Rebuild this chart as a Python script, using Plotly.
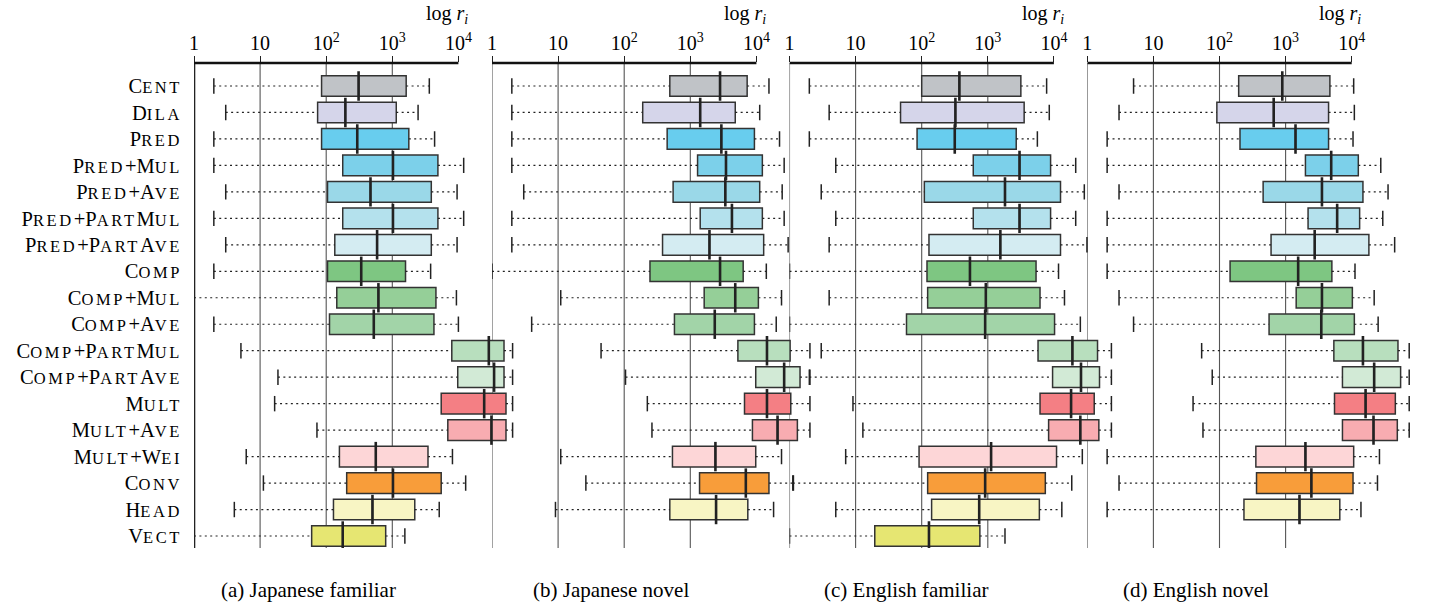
import re
import plotly.graph_objects as go

FONT = "Liberation Serif"
W, H = 1432, 610

methods = ["Cent", "Dila", "Pred", "Pred+Mul", "Pred+Ave", "Pred+PartMul",
           "Pred+PartAve", "Comp", "Comp+Mul", "Comp+Ave", "Comp+PartMul",
           "Comp+PartAve", "Mult", "Mult+Ave", "Mult+Wei", "Conv", "Head", "Vect"]

colors = ["#c0c3c7", "#d5d5ea", "#68cdee", "#7cd0ea", "#9ad8e8", "#b4e1ed",
          "#d4ecf2", "#7ec682", "#95cf98", "#a2d4a8", "#b8dfbe", "#d2ead6",
          "#f47f84", "#f8acb1", "#fdd6d7", "#f89d3a", "#f8f5c4", "#e6e672"]

# log10 of the rank r_i (whisker low, q1, median, q3, whisker high)
ja_fam_low  = [0.30, 0.48, 0.30, 0.30, 0.48, 0.30, 0.48, 0.30, 0.00, 0.30, 0.71, 1.27, 1.22, 1.86, 0.79, 1.05, 0.61, 0.00]
ja_fam_q1   = [1.93, 1.87, 1.93, 2.25, 2.02, 2.25, 2.13, 2.02, 2.16, 2.05, 3.90, 3.99, 3.74, 3.84, 2.20, 2.31, 2.11, 1.78]
ja_fam_med  = [2.49, 2.29, 2.47, 3.01, 2.67, 3.01, 2.77, 2.53, 2.79, 2.72, 4.46, 4.54, 4.39, 4.50, 2.75, 3.01, 2.70, 2.25]
ja_fam_q3   = [3.21, 3.06, 3.25, 3.69, 3.59, 3.69, 3.59, 3.20, 3.66, 3.63, 4.69, 4.69, 4.72, 4.72, 3.54, 3.74, 3.34, 2.90]
ja_fam_high = [3.56, 3.39, 3.64, 4.08, 3.98, 4.08, 3.98, 3.58, 3.97, 4.00, 4.82, 4.82, 4.82, 4.82, 3.91, 4.11, 3.71, 3.19]

ja_nov_low  = [0.30, 0.30, 0.30, 0.30, 0.48, 0.30, 0.30, 0.00, 1.04, 0.60, 1.65, 2.02, 2.35, 2.42, 1.04, 1.42, 0.96, None]
ja_nov_q1   = [2.69, 2.28, 2.65, 3.11, 2.74, 3.15, 2.58, 2.39, 3.21, 2.76, 3.72, 3.99, 3.82, 3.94, 2.73, 3.14, 2.69, None]
ja_nov_med  = [3.45, 3.15, 3.47, 3.54, 3.53, 3.63, 3.29, 3.45, 3.68, 3.37, 4.16, 4.42, 4.16, 4.32, 3.38, 3.84, 3.39, None]
ja_nov_q3   = [3.86, 3.68, 3.97, 4.09, 4.05, 4.09, 4.11, 3.80, 4.03, 3.97, 4.51, 4.66, 4.52, 4.62, 3.99, 4.19, 3.87, None]
ja_nov_high = [4.19, 4.05, 4.35, 4.42, 4.39, 4.42, 4.48, 4.15, 4.38, 4.30, 4.81, 4.81, 4.81, 4.81, 4.38, 4.56, 4.26, None]

en_fam_low  = [0.30, 0.60, 0.30, 0.70, 0.48, 0.70, 0.60, 0.00, 0.60, 0.00, 0.48, 0.30, 0.96, 1.11, 0.85, 0.05, 0.70, 0.00]
en_fam_q1   = [2.00, 1.68, 1.93, 2.78, 2.04, 2.78, 2.11, 2.08, 2.09, 1.77, 3.76, 3.98, 3.79, 3.92, 1.96, 2.09, 2.15, 1.29]
en_fam_med  = [2.57, 2.51, 2.50, 3.48, 3.26, 3.48, 3.19, 2.73, 2.97, 2.96, 4.28, 4.41, 4.26, 4.40, 3.05, 2.96, 2.87, 2.11]
en_fam_q3   = [3.50, 3.55, 3.43, 3.95, 4.10, 3.95, 4.10, 3.73, 3.79, 4.01, 4.66, 4.69, 4.61, 4.68, 4.04, 3.87, 3.78, 2.88]
en_fam_high = [3.89, 3.93, 3.75, 4.33, 4.46, 4.33, 4.50, 4.07, 4.16, 4.40, 4.87, 4.87, 4.87, 4.87, 4.43, 4.27, 4.12, 3.26]

en_nov_low  = [0.70, 0.48, 0.30, 0.30, 0.48, 0.30, 0.30, 0.30, 0.48, 0.70, 1.73, 1.89, 1.60, 1.75, 0.30, 0.48, 0.30, None]
en_nov_q1   = [2.29, 1.96, 2.31, 3.30, 2.66, 3.34, 2.78, 2.16, 3.16, 2.75, 3.73, 3.86, 3.74, 3.86, 2.55, 2.56, 2.37, None]
en_nov_med  = [2.95, 2.82, 3.15, 3.69, 3.55, 3.78, 3.44, 3.19, 3.55, 3.54, 4.17, 4.34, 4.21, 4.33, 3.30, 3.39, 3.21, None]
en_nov_q3   = [3.67, 3.65, 3.65, 4.10, 4.17, 4.12, 4.26, 3.70, 4.01, 4.04, 4.70, 4.74, 4.66, 4.69, 4.03, 4.02, 3.82, None]
en_nov_high = [4.03, 4.04, 4.02, 4.44, 4.55, 4.47, 4.65, 4.05, 4.34, 4.40, 4.87, 4.87, 4.87, 4.87, 4.42, 4.39, 4.14, None]

panels = [
    ("(a) Japanese familiar", ja_fam_low, ja_fam_q1, ja_fam_med, ja_fam_q3, ja_fam_high),
    ("(b) Japanese novel",    ja_nov_low, ja_nov_q1, ja_nov_med, ja_nov_q3, ja_nov_high),
    ("(c) English familiar",  en_fam_low, en_fam_q1, en_fam_med, en_fam_q3, en_fam_high),
    ("(d) English novel",     en_nov_low, en_nov_q1, en_nov_med, en_nov_q3, en_nov_high),
]

tick_vals = [1, 10, 100, 1000, 10000]
tick_text = ["1", "10", "10<sup>2</sup>", "10<sup>3</sup>", "10<sup>4</sup>"]

# geometry (pixels)
TOP, BOTTOM = 63, 548
ORIGINS = [194, 492, 789.5, 1087.3]
DECADE = 66.1
SPAN = 4.95
CAPTION_X = [308, 611, 906, 1196]


def small_caps(name):
    return re.sub(r"[a-z]+",
                  lambda m: '<span style="font-size:16.5px;letter-spacing:2.6px">%s</span>' % m.group().upper(),
                  name)


def r(v):
    return None if v is None else 10 ** v


fig = go.Figure()
shapes, annotations = [], []
layout = {}

for k, (caption, low, q1, med, q3, high) in enumerate(panels):
    xa = "x" if k == 0 else f"x{k + 1}"
    rows = [i for i in range(len(methods)) if med[i] is not None]

    wx, wy = [], []
    for i in rows:
        wx += [r(low[i]), r(q1[i]), None, r(q3[i]), r(high[i]), None]
        wy += [i, i, None, i, i, None]
    fig.add_trace(go.Scatter(x=wx, y=wy, mode="lines", xaxis=xa, yaxis="y",
                             line=dict(color="#222", width=1.2, dash="2px,3.4px"),
                             hoverinfo="skip", showlegend=False))

    for i in rows:
        fig.add_trace(go.Box(
            y=[i], q1=[r(q1[i])], median=[r(med[i])], q3=[r(q3[i])],
            lowerfence=[r(q1[i])], upperfence=[r(q3[i])],
            orientation="h", width=0.78, whiskerwidth=0,
            fillcolor=colors[i], line=dict(color="#333", width=1.5),
            xaxis=xa, yaxis="y", hoverinfo="skip", showlegend=False,
        ))

    fig.add_trace(go.Scatter(
        x=[r(med[i]) for i in rows], y=rows, mode="markers", xaxis=xa, yaxis="y",
        marker=dict(symbol="line-ns", size=21, line=dict(color="#222", width=2.6)),
        hoverinfo="skip", showlegend=False))
    fig.add_trace(go.Scatter(
        x=[r(low[i]) for i in rows] + [r(high[i]) for i in rows], y=rows + rows,
        mode="markers", xaxis=xa, yaxis="y",
        marker=dict(symbol="line-ns", size=11, line=dict(color="#222", width=1.5)),
        hoverinfo="skip", showlegend=False))

    o = ORIGINS[k]
    layout["xaxis" if k == 0 else f"xaxis{k + 1}"] = dict(
        type="log", range=[0, SPAN], domain=[o / W, (o + SPAN * DECADE) / W],
        anchor="y", side="top", tickvals=tick_vals, ticktext=tick_text,
        ticks="outside", ticklen=6, tickwidth=1.2, tickcolor="#222",
        ticklabelstandoff=-2, automargin=False,
        showgrid=False, zeroline=False, showline=False,
        tickfont=dict(family=FONT, size=20, color="black"),
    )

    # vertical grid lines at 1 .. 10^3, the thick top axis line from 1 to 10^4
    for t in tick_vals[:-1]:
        first = (k == 0 and t == 1)
        shapes.append(dict(type="line", xref=xa, yref="paper", x0=t, x1=t,
                           y0=0, y1=1, layer="below",
                           line=dict(color="#222" if first else "#555", width=2.6 if first else 1.1)))
    shapes.append(dict(type="line", xref=xa, yref="paper", x0=tick_vals[0], x1=tick_vals[-1],
                       y0=1, y1=1, line=dict(color="#111", width=2.6)))

    annotations.append(dict(text="log <i>r</i><sub><i>i</i></sub>", xref="paper", yref="paper",
                            x=(o + 276) / W, y=(BOTTOM - 15) / (BOTTOM - TOP),
                            xanchor="right", yanchor="middle", showarrow=False,
                            font=dict(family=FONT, size=20, color="black")))
    annotations.append(dict(text=caption, xref="paper", yref="paper",
                            x=CAPTION_X[k] / W, y=(BOTTOM - 590) / (BOTTOM - TOP),
                            xanchor="center", yanchor="middle", showarrow=False,
                            font=dict(family=FONT, size=21, color="black")))

row_px = 26.47
layout["yaxis"] = dict(
    domain=[0, 1], range=[17 + (BOTTOM - 536) / row_px, -(86 - TOP) / row_px],
    tickvals=list(range(len(methods))), ticktext=[small_caps(m) for m in methods],
    ticks="", ticklabelstandoff=11, automargin=False,
    showgrid=False, zeroline=False, showline=False,
    tickfont=dict(family=FONT, size=20.5, color="black"), anchor="x",
)

fig.update_layout(
    width=W, height=H, paper_bgcolor="white", plot_bgcolor="rgba(0,0,0,0)",
    margin=dict(l=0, r=0, t=TOP, b=H - BOTTOM),
    boxmode="overlay", showlegend=False,
    shapes=shapes, annotations=annotations, **layout,
)

# the page's default body margin would shift the figure by 8px
fig.write_html("out.html", config={"displayModeBar": False},
               post_script="document.body.style.margin = '0';")
